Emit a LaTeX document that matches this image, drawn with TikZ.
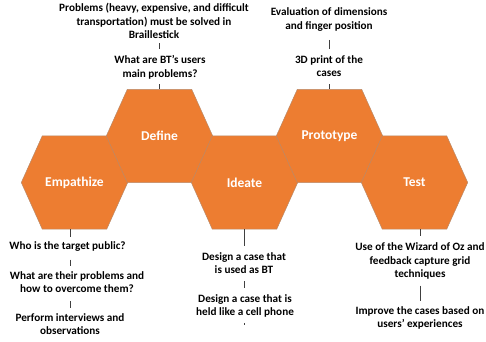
\documentclass[tikz,border=0pt]{standalone}
\usepackage{fontspec}
\setmainfont{Carlito}
\usetikzlibrary{backgrounds}
\definecolor{hexor}{HTML}{ED7D31}
\definecolor{seam}{HTML}{B98A6A}
\begin{document}
\begin{tikzpicture}[x=1pt,y=-1pt,
 hexlbl/.style={minimum width=106pt, minimum height=93pt, inner sep=0pt, text=white, font=\fontsize{13.5}{15}\selectfont\bfseries},
 hexfill/.style={fill=hexor, draw=seam, line width=0.5pt},
 txt/.style={align=center, inner sep=0pt, font=\fontsize{11.2}{13.7}\selectfont\bfseries, text=black},
 conn/.style={draw=black!75, line width=0.6pt}]
\useasboundingbox (0,0) rectangle (486,341);
\newcommand{\hexshape}[1]{%
  \begin{pgfonlayer}{background}
  \path[hexfill] (#1.west) -- ([xshift=21pt]#1.north west) -- ([xshift=-21pt]#1.north east) -- (#1.east) -- ([xshift=-21pt]#1.south east) -- ([xshift=21pt]#1.south west) -- cycle;
  \end{pgfonlayer}}
% hexagons
\node[hexlbl] (Emp) at (74.5,182.5) {Empathize};
\node[hexlbl] (Def) at (159.5,136) {Define};
\node[hexlbl] (Ide) at (244.5,182.5) {Ideate};
\node[hexlbl] (Pro) at (329.5,136) {Prototype};
\node[hexlbl] (Tes) at (414.5,182.5) {Test};
\hexshape{Emp}\hexshape{Def}\hexshape{Ide}\hexshape{Pro}\hexshape{Tes}
% texts
\node[txt] (A1) at (154,21) {Problems (heavy, expensive, and difficult\\transportation) must be solved in\\Braillestick};
\node[txt] (A2) at (160,67) {What are BT’s users\\main problems?};
\node[txt] (B1) at (329,19.5) {Evaluation of dimensions\\and finger position};
\node[txt] (B2) at (329,66) {3D print of the\\cases};
\node[txt] (E1) at (67.5,247) {Who is the target public?};
\node[txt] (E2) at (77,282) {What are their problems and\\how to overcome them?};
\node[txt] (E3) at (70,324) {Perform interviews and\\observations};
\node[txt] (I1) at (244,263) {Design a case that\\is used as BT};
\node[txt] (I2) at (245,306) {Design a case that is\\held like a cell phone};
\coordinate (I3) at (244.5,325);
\node[txt] (T1) at (420,261) {Use of the Wizard of Oz and\\feedback capture grid\\techniques};
\node[txt] (T2) at (420,318) {Improve the cases based on\\users’ experiences};
% connectors
\draw[conn, shorten <=4pt, shorten >=6pt] (A1.south -| Def) -- (A2.north -| Def);
\draw[conn, shorten <=5pt] (A2.south -| Def) -- (Def.north);
\draw[conn, shorten <=8.5pt, shorten >=6pt] (B1.south -| Pro) -- (B2.north -| Pro);
\draw[conn, shorten <=7pt] (B2.south -| Pro) -- (Pro.north);
\draw[conn, shorten >=4.6pt] (Emp.south -| E3) -- (E1.north -| E3);
\draw[conn, shorten <=7.6pt, shorten >=5pt] (E1.south -| E3) -- (E2.north -| E3);
\draw[conn, shorten <=8pt, shorten >=5pt] (E2.south -| E3) -- (E3.north);
\draw[conn, shorten >=6pt] (Ide.south) -- (I1.north -| Ide);
\draw[conn, shorten <=7pt, shorten >=6pt] (I1.south -| Ide) -- (I2.north -| Ide);
\draw[conn, shorten <=5pt] (I2.south -| Ide) -- (I3);
\draw[conn, shorten >=6pt] (Tes.south -| T1) -- (T1.north);
\draw[conn, shorten <=6pt, shorten >=5pt] (T1.south) -- (T2.north);
\end{tikzpicture}
\end{document}
